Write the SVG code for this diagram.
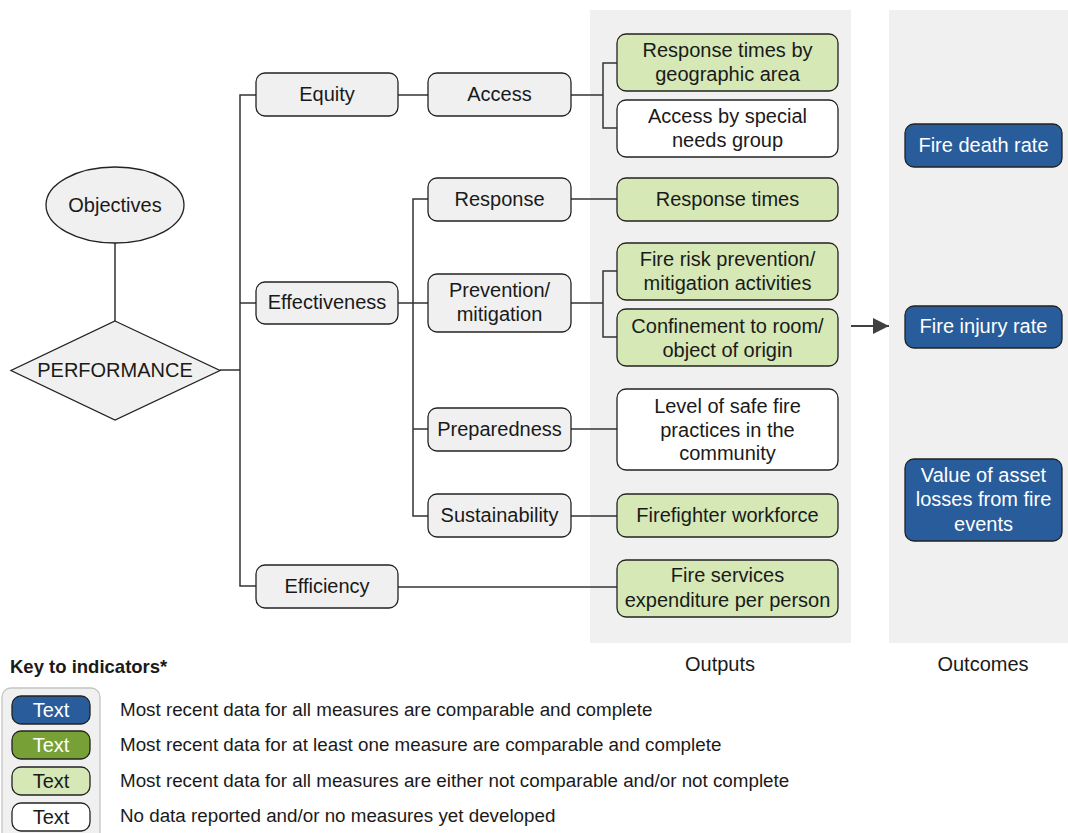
<svg xmlns="http://www.w3.org/2000/svg" width="1068" height="833" viewBox="0 0 1068 833">
<style>
text{font-family:"Liberation Sans",Arial,sans-serif;font-size:20px;text-anchor:middle;fill:#1a1a1a}
.g{fill:#f0f0f0;stroke:#222;stroke-width:1.3}
.lg{fill:#d5e8b6;stroke:#222;stroke-width:1.3}
.w{fill:#fff;stroke:#222;stroke-width:1.3}
.b{fill:#285c9b;stroke:#222;stroke-width:1.3}
.dg{fill:#77a136;stroke:#222;stroke-width:1.3}
.bt{fill:#fff}
.c{fill:none;stroke:#333;stroke-width:1.5}
.lt{text-anchor:start;font-size:18.8px}
.pan{fill:#f0f0f0}
</style>
<defs>
<marker id="ah" viewBox="0 0 10 10" refX="10" refY="5" markerWidth="18" markerHeight="16" markerUnits="userSpaceOnUse" orient="auto"><path d="M0,0L10,5L0,10z" fill="#404040"/></marker>
</defs>
<rect width="1068" height="833" fill="#fff"/>
<g id="panels">
<rect class="pan" x="590" y="10" width="261" height="633"/>
<rect class="pan" x="889" y="10" width="190" height="633"/>
<text x="720" y="671">Outputs</text>
<text x="983" y="671">Outcomes</text>
</g>
<g id="connectors">
<path class="c" d="M115,243V321"/>
<path class="c" d="M220,370H240M256,95H240V586H256M240,303H256"/>
<path class="c" d="M398,95H428"/>
<path class="c" d="M571,95H603M617,63H603V128H617"/>
<path class="c" d="M398,303H413M428,199H413V516H428M413,303H428M413,429H428"/>
<path class="c" d="M571,199H617"/>
<path class="c" d="M571,303H603M617,271H603V337H617"/>
<path class="c" d="M571,429H617"/>
<path class="c" d="M571,516H617"/>
<path class="c" d="M398,587H617"/>
<path d="M851,326H889" stroke="#404040" stroke-width="2" marker-end="url(#ah)"/>
</g>
<g id="objectives"><ellipse class="g" cx="115" cy="205" rx="69" ry="38"/><text x="115" y="212">Objectives</text></g>
<g id="performance"><path class="g" d="M115,321L220,370.5L115,420L11,370.5z"/><text x="115" y="377">PERFORMANCE</text></g>
<g id="equity"><rect class="g" x="256" y="73" width="142" height="43" rx="9"/><text x="327" y="101">Equity</text></g>
<g id="effectiveness"><rect class="g" x="256" y="282" width="142" height="42" rx="9"/><text x="327" y="309">Effectiveness</text></g>
<g id="efficiency"><rect class="g" x="256" y="565" width="142" height="43" rx="9"/><text x="327" y="593">Efficiency</text></g>
<g id="access"><rect class="g" x="428" y="73" width="143" height="43" rx="9"/><text x="499.5" y="101">Access</text></g>
<g id="response"><rect class="g" x="428" y="178" width="143" height="43" rx="9"/><text x="499.5" y="206">Response</text></g>
<g id="prevention"><rect class="g" x="428" y="274" width="143" height="58" rx="9"/><text x="499.5" y="297">Prevention/</text><text x="499.5" y="321">mitigation</text></g>
<g id="preparedness"><rect class="g" x="428" y="408" width="143" height="43" rx="9"/><text x="499.5" y="436">Preparedness</text></g>
<g id="sustainability"><rect class="g" x="428" y="494" width="143" height="43" rx="9"/><text x="499.5" y="522">Sustainability</text></g>
<g id="out-geo"><rect class="lg" x="617" y="34" width="221" height="57" rx="9"/><text x="727.5" y="57">Response times by</text><text x="727.5" y="81">geographic area</text></g>
<g id="out-special"><rect class="w" x="617" y="100" width="221" height="57" rx="9"/><text x="727.5" y="123">Access by special</text><text x="727.5" y="147">needs group</text></g>
<g id="out-resp"><rect class="lg" x="617" y="178" width="221" height="43" rx="9"/><text x="727.5" y="206">Response times</text></g>
<g id="out-risk"><rect class="lg" x="617" y="243" width="221" height="57" rx="9"/><text x="727.5" y="266">Fire risk prevention/</text><text x="727.5" y="290">mitigation activities</text></g>
<g id="out-conf"><rect class="lg" x="617" y="309" width="221" height="57" rx="9"/><text x="727.5" y="333">Confinement to room/</text><text x="727.5" y="357">object of origin</text></g>
<g id="out-safe"><rect class="w" x="617" y="389" width="221" height="81" rx="9"/><text x="727.5" y="413">Level of safe fire</text><text x="727.5" y="437">practices in the</text><text x="727.5" y="460">community</text></g>
<g id="out-ff"><rect class="lg" x="617" y="494" width="221" height="43" rx="9"/><text x="727.5" y="522">Firefighter workforce</text></g>
<g id="out-exp"><rect class="lg" x="617" y="560" width="221" height="57" rx="9"/><text x="727.5" y="582">Fire services</text><text x="727.5" y="607">expenditure per person</text></g>
<g id="oc-death"><rect class="b" x="905" y="124" width="157" height="43" rx="9"/><text class="bt" x="983.5" y="152">Fire death rate</text></g>
<g id="oc-injury"><rect class="b" x="905" y="306" width="157" height="42" rx="9"/><text class="bt" x="983.5" y="333">Fire injury rate</text></g>
<g id="oc-value"><rect class="b" x="905" y="459" width="157" height="82" rx="9"/><text class="bt" x="983.5" y="482">Value of asset</text><text class="bt" x="983.5" y="506">losses from fire</text><text class="bt" x="983.5" y="531">events</text></g>
<g id="legend">
<text x="10" y="673" style="text-anchor:start;font-weight:bold;font-size:18.5px">Key to indicators*</text>
<rect x="2" y="688" width="98" height="160" rx="9" fill="#f0f0f0" stroke="#c4c4c4" stroke-width="1.3"/>
<rect class="b" x="12" y="696" width="78" height="28" rx="9"/><text class="bt" x="51" y="717">Text</text>
<rect class="dg" x="12" y="731" width="78" height="28" rx="9"/><text class="bt" x="51" y="752">Text</text>
<rect class="lg" x="12" y="767" width="78" height="28" rx="9"/><text x="51" y="788">Text</text>
<rect class="w" x="12" y="803" width="78" height="28" rx="9"/><text x="51" y="824">Text</text>
<text class="lt" x="120" y="716">Most recent data for all measures are comparable and complete</text>
<text class="lt" x="120" y="751">Most recent data for at least one measure are comparable and complete</text>
<text class="lt" x="120" y="787">Most recent data for all measures are either not comparable and/or not complete</text>
<text class="lt" x="120" y="822">No data reported and/or no measures yet developed</text>
</g>
</svg>
